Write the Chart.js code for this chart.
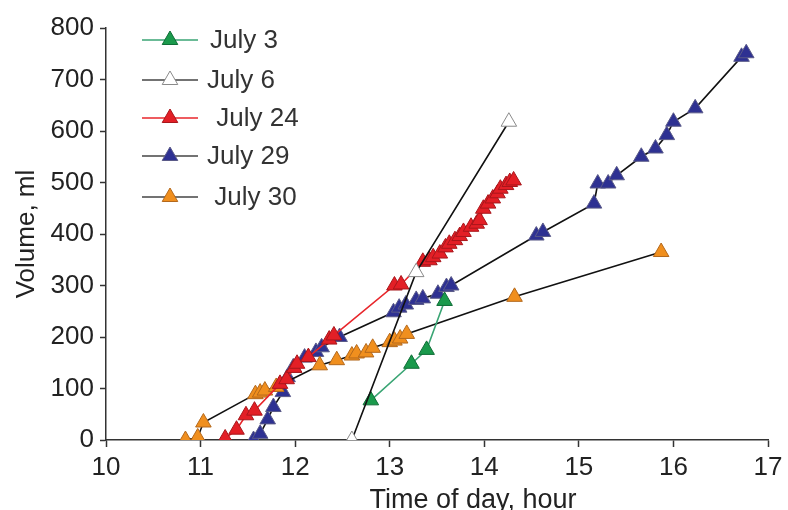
<!DOCTYPE html>
<html>
<head>
<meta charset="utf-8">
<script src="https://cdn.jsdelivr.net/npm/chart.js@4.4.1/dist/chart.umd.min.js"></script>
<style>
  html, body { margin: 0; padding: 0; background: #fff; }
  #wrap { width: 788px; height: 510px; }
</style>
</head>
<body>
<div id="wrap"><canvas id="myChart" width="788" height="510"></canvas></div>
<script>
// values (time of day in hours, volume in ml)
const july3Hours = [12.80, 13.23, 13.39, 13.58];
const july3Volume = [77, 148, 175, 270];

const july6Hours = [12.60, 13.28, 14.26];
const july6Volume = [0, 326, 618];

const july24Hours = [11.26, 11.38, 11.48, 11.57, 11.84, 11.91, 11.99, 12.02, 12.14, 12.36, 12.41,
  13.05, 13.12, 13.35, 13.42, 13.46, 13.53, 13.59, 13.63, 13.69, 13.74, 13.78, 13.86, 13.92,
  13.95, 13.99, 14.04, 14.09, 14.14, 14.17, 14.23, 14.27, 14.31];
const july24Volume = [3, 20, 48, 57, 109, 118, 140, 148, 161, 195, 203,
  300, 302, 346, 349, 355, 362, 374, 381, 388, 396, 404, 414, 420,
  427, 449, 459, 469, 479, 488, 495, 501, 504];

const july29Hours = [11.56, 11.63, 11.71, 11.77, 11.87, 11.92, 11.98, 12.10, 12.22, 12.28, 12.47,
  13.04, 13.10, 13.17, 13.28, 13.35, 13.51, 13.60, 13.65, 14.55, 14.62, 15.16, 15.20, 15.31,
  15.40, 15.66, 15.81, 15.93, 16.00, 16.23, 16.72, 16.77];
const july29Volume = [0, 12, 40, 64, 93, 122, 141, 160, 171, 180, 200,
  248, 257, 263, 272, 275, 284, 297, 300, 397, 404, 459, 498, 498,
  514, 550, 566, 592, 618, 644, 744, 751];

const july30Hours = [10.84, 10.97, 11.03, 11.58, 11.63, 11.68, 11.80, 12.26, 12.44, 12.60, 12.65,
  12.75, 12.82, 13.00, 13.05, 13.11, 13.18, 14.32, 15.87];
const july30Volume = [0, 5, 34, 89, 92, 96, 103, 145, 155, 164, 168,
  170, 179, 190, 193, 197, 206, 278, 365];

const xTicks = [10, 11, 12, 13, 14, 15, 16, 17];
const yTicks = [0, 100, 200, 300, 400, 500, 600, 700, 800];

const toPoints = (hours, vols) => hours.map((h, i) => ({ x: h, y: vols[i] }));

// legend rows: label text, line colour, text x position
const legendRows = [
  { label: 'July 3', line: '#3aa574', fill: '#1a9a4c', border: '#0f6d36', textX: 210, y: 40 },
  { label: 'July 6', line: '#444', fill: '#ffffff', border: '#8a8a8a', textX: 207, y: 80 },
  { label: ' July 24', line: '#e8262b', fill: '#e31f26', border: '#a8161b', textX: 209, y: 118 },
  { label: 'July 29', line: '#444', fill: '#2e3192', border: '#5a5a88', textX: 207, y: 156 },
  { label: ' July 30', line: '#444', fill: '#f08f1e', border: '#b3681c', textX: 207, y: 197 },
];

const drawTriangle = (ctx, x, y, r, fill, border) => {
  ctx.beginPath();
  for (let k = 0; k < 3; k++) {
    const a = k * 2 * Math.PI / 3;
    const px = x + Math.sin(a) * r, py = y - Math.cos(a) * r;
    if (k === 0) ctx.moveTo(px, py); else ctx.lineTo(px, py);
  }
  ctx.closePath();
  ctx.fillStyle = fill;
  ctx.fill();
  ctx.lineWidth = 1;
  ctx.strokeStyle = border;
  ctx.stroke();
};

// draws the legend block and the two axis titles
const extrasPlugin = {
  id: 'extras',
  afterDraw(chart) {
    const ctx = chart.ctx;
    ctx.save();
    legendRows.forEach(row => {
      ctx.beginPath();
      ctx.moveTo(142, row.y);
      ctx.lineTo(198, row.y);
      ctx.strokeStyle = row.line;
      ctx.lineWidth = 1.5;
      ctx.stroke();
      drawTriangle(ctx, 170, row.y, 9, row.fill, row.border);
      ctx.fillStyle = '#333';
      ctx.font = '26px "Liberation Sans", Arial, sans-serif';
      ctx.textAlign = 'left';
      ctx.textBaseline = 'middle';
      ctx.fillText(row.label, row.textX, row.y + 1);
    });

    ctx.fillStyle = '#222';
    ctx.font = '27px "Liberation Sans", Arial, sans-serif';
    ctx.textAlign = 'center';
    ctx.textBaseline = 'alphabetic';
    ctx.fillText('Time of day, hour', 473, 508);

    ctx.font = '26px "Liberation Sans", Arial, sans-serif';
    ctx.translate(34, 234);
    ctx.rotate(-Math.PI / 2);
    ctx.fillText('Volume, ml', 0, 0);
    ctx.restore();
  }
};

const series = (label, hours, vols, lineColor, fill, border, order) => ({
  label: label,
  data: toPoints(hours, vols),
  showLine: true,
  borderColor: lineColor,
  borderWidth: 1.6,
  pointStyle: 'triangle',
  pointRadius: 9,
  pointBackgroundColor: fill,
  pointBorderColor: border,
  pointBorderWidth: 1,
  order: order,
});

const ctx = document.getElementById('myChart').getContext('2d');
new Chart(ctx, {
  type: 'scatter',
  data: {
    datasets: [
      series('July 29', july29Hours, july29Volume, '#111', '#2e3192', '#5a5a88', 5),
      series('July 30', july30Hours, july30Volume, '#111', '#f08f1e', '#b3681c', 4),
      series('July 3', july3Hours, july3Volume, '#3aa574', '#1a9a4c', '#0f6d36', 2),
      series('July 24', july24Hours, july24Volume, '#e8262b', '#e31f26', '#a8161b', 1),
      series('July 6', july6Hours, july6Volume, '#111', '#ffffff', '#8a8a8a', 0),
    ]
  },
  options: {
    responsive: false,
    animation: false,
    layout: { padding: { left: 0, right: 20, top: 28, bottom: 0 } },
    plugins: {
      legend: { display: false },
      tooltip: { enabled: false },
    },
    scales: {
      x: {
        type: 'linear',
        min: 10,
        max: 17,
        afterFit(scale) { scale.height = 70; },
        afterBuildTicks(scale) { scale.ticks = xTicks.map(v => ({ value: v })); },
        grid: { drawOnChartArea: false, drawTicks: true, tickLength: 7, tickColor: '#333', tickWidth: 1.5 },
        border: { display: true, color: '#333', width: 1.5 },
        ticks: { color: '#222', font: { size: 26, family: '"Liberation Sans", Arial, sans-serif' }, padding: 5, maxRotation: 0 },
      },
      y: {
        min: 0,
        max: 800,
        afterFit(scale) { scale.width = 106; },
        afterBuildTicks(scale) { scale.ticks = yTicks.map(v => ({ value: v })); },
        grid: { drawOnChartArea: false, drawTicks: true, tickLength: 6, tickColor: '#333', tickWidth: 1.5 },
        border: { display: true, color: '#333', width: 1.5 },
        ticks: { color: '#222', font: { size: 26, family: '"Liberation Sans", Arial, sans-serif' }, padding: 6 },
      }
    }
  },
  plugins: [extrasPlugin]
});
</script>
</body>
</html>
